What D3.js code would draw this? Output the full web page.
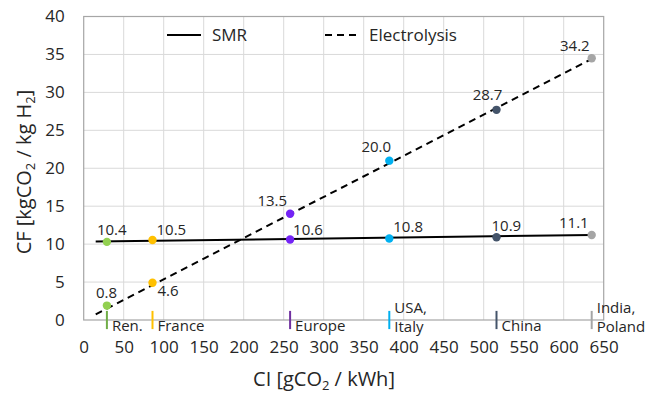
<!DOCTYPE html>
<html>
<head>
<meta charset="utf-8">
<script src="https://cdn.jsdelivr.net/npm/d3@7"></script>
<style>
  html, body { margin: 0; padding: 0; background: #fff; }
  svg { display: block; font-family: "Open Sans", "Noto Sans", sans-serif; }
</style>
</head>
<body>
<svg id="chart" width="651" height="393"></svg>
<script>
// ---- data ----
const categories = ["Ren.", "France", "Europe", "USA, Italy", "China", "India, Poland"];
const categoryLines = [["Ren."], ["France"], ["Europe"], ["USA,", "Italy"], ["China"], ["India,", "Poland"]];
const ci = [29, 86, 258, 382, 516, 635];
const smrValues = [10.3, 10.55, 10.6, 10.75, 10.9, 11.2];
const smrLabels = ["10.4", "10.5", "10.6", "10.8", "10.9", "11.1"];
const elecValues = [1.9, 4.9, 14.0, 21.0, 27.7, 34.5];
const elecLabels = ["0.8", "4.6", "13.5", "20.0", "28.7", "34.2"];
const trendX = [15, 635];
const smrTrend = [10.35, 11.2];
const elecTrend = [0.75, 34.4];
const xTickValues = [0, 50, 100, 150, 200, 250, 300, 350, 400, 450, 500, 550, 600, 650];
const yTickValues = [0, 5, 10, 15, 20, 25, 30, 35, 40];
const markerRange = [-1.2, 1.2];

// ---- style ----
const dotColors = ["#92d050", "#ffc000", "#7424f5", "#00b0f0", "#44546a", "#a5a5a5"];
const tickColors = ["#70ad47", "#ffc000", "#7030a0", "#00b0f0", "#44546a", "#a5a5a5"];
const smrLabelPos = [[-10, -7, "start"], [4, -5, "start"], [3, -5, "start"], [4, -6, "start"], [-5, -6, "start"], [-3, -7, "end"]];
const elecLabelPos = [[-11, -8, "start"], [5, 13, "start"], [-3, -8, "end"], [-13, -9, "middle"], [-9, -10, "middle"], [-2, -7, "end"]];
const textColor = "#262626";

const svg = d3.select("#chart");
const x = d3.scaleLinear().domain([0, 650]).range([83.7, 603.7]);
const y = d3.scaleLinear().domain([0, 40]).range([320, 16.5]);

// gridlines
svg.append("g").selectAll("line.vg").data(xTickValues.slice(1, -1)).join("line")
  .attr("x1", d => x(d)).attr("x2", d => x(d))
  .attr("y1", y(0)).attr("y2", y(40))
  .attr("stroke", "#d9d9d9").attr("stroke-width", 1);
svg.append("g").selectAll("line.hg").data(yTickValues.slice(1, -1)).join("line")
  .attr("x1", x(0)).attr("x2", x(650))
  .attr("y1", d => y(d)).attr("y2", d => y(d))
  .attr("stroke", "#d9d9d9").attr("stroke-width", 1);

// plot border
svg.append("rect")
  .attr("x", x(0)).attr("y", y(40))
  .attr("width", x(650) - x(0)).attr("height", y(0) - y(40))
  .attr("fill", "none").attr("stroke", "#a6a6a6").attr("stroke-width", 1.2);

// axes (labels only)
const xAxis = d3.axisBottom(x).tickValues(xTickValues).tickSize(0).tickPadding(0);
const gx = svg.append("g").attr("transform", `translate(0,${y(0) + 27})`).call(xAxis);
gx.select(".domain").remove();
gx.selectAll("text").attr("font-size", 17).attr("fill", textColor)
  .attr("font-family", "Open Sans").attr("dy", "0.35em").attr("y", 0);

const yAxis = d3.axisLeft(y).tickValues(yTickValues).tickSize(0).tickPadding(0);
const gy = svg.append("g").attr("transform", `translate(${x(0) - 19},0)`).call(yAxis);
gy.select(".domain").remove();
gy.selectAll("text").attr("font-size", 17).attr("fill", textColor).attr("font-family", "Open Sans");

// category markers
svg.append("g").selectAll("line").data(ci).join("line")
  .attr("x1", d => x(d)).attr("x2", d => x(d))
  .attr("y1", y(markerRange[0])).attr("y2", y(markerRange[1]))
  .attr("stroke", (d, i) => tickColors[i]).attr("stroke-width", 2);

// category labels
const catG = svg.append("g");
categoryLines.forEach((lines, i) => {
  const t = catG.append("text")
    .attr("x", x(ci[i]) + 5)
    .attr("font-size", 15).attr("fill", textColor);
  lines.forEach((ln, j) => {
    const baseY = lines.length === 1 ? 331 : (j === 0 ? 313 : 332);
    t.append("tspan").attr("x", x(ci[i]) + 5).attr("y", baseY).text(ln);
  });
});

// trend lines
const line = d3.line().x(d => x(d[0])).y(d => y(d[1]));
svg.append("path").datum(trendX.map((v, i) => [v, smrTrend[i]]))
  .attr("d", line).attr("fill", "none").attr("stroke", "#000").attr("stroke-width", 2);
svg.append("path").datum(trendX.map((v, i) => [v, elecTrend[i]]))
  .attr("d", line).attr("fill", "none").attr("stroke", "#000").attr("stroke-width", 2)
  .attr("stroke-dasharray", "7,5");

// dots
svg.append("g").selectAll("circle").data(ci).join("circle")
  .attr("cx", d => x(d)).attr("cy", (d, i) => y(smrValues[i])).attr("r", 4.2)
  .attr("fill", (d, i) => dotColors[i]);
svg.append("g").selectAll("circle").data(ci).join("circle")
  .attr("cx", d => x(d)).attr("cy", (d, i) => y(elecValues[i])).attr("r", 4.2)
  .attr("fill", (d, i) => dotColors[i]);

// data labels
svg.append("g").selectAll("text").data(ci).join("text")
  .attr("x", (d, i) => x(d) + smrLabelPos[i][0])
  .attr("y", (d, i) => y(smrValues[i]) + smrLabelPos[i][1])
  .attr("text-anchor", (d, i) => smrLabelPos[i][2])
  .attr("font-size", 15).attr("fill", textColor)
  .text((d, i) => smrLabels[i]);
svg.append("g").selectAll("text").data(ci).join("text")
  .attr("x", (d, i) => x(d) + elecLabelPos[i][0])
  .attr("y", (d, i) => y(elecValues[i]) + elecLabelPos[i][1])
  .attr("text-anchor", (d, i) => elecLabelPos[i][2])
  .attr("font-size", 15).attr("fill", textColor)
  .text((d, i) => elecLabels[i]);

// legend
const leg = svg.append("g");
leg.append("line").attr("x1", 167).attr("x2", 201).attr("y1", 35).attr("y2", 35)
  .attr("stroke", "#000").attr("stroke-width", 2);
leg.append("text").attr("x", 212).attr("y", 41).attr("font-size", 17).attr("fill", textColor).text("SMR");
leg.append("line").attr("x1", 325).attr("x2", 358).attr("y1", 35).attr("y2", 35)
  .attr("stroke", "#000").attr("stroke-width", 2).attr("stroke-dasharray", "7,5");
leg.append("text").attr("x", 369).attr("y", 41).attr("font-size", 17).attr("fill", textColor).text("Electrolysis");

// axis titles
const xt = svg.append("text").attr("x", 324).attr("y", 386).attr("text-anchor", "middle")
  .attr("font-size", 20).attr("fill", textColor);
xt.append("tspan").text("CI [gCO");
xt.append("tspan").attr("font-size", 13).attr("dy", 4).text("2");
xt.append("tspan").attr("dy", -4).text(" / kWh]");

const yt = svg.append("text").attr("transform", "translate(31,172) rotate(-90)")
  .attr("text-anchor", "middle").attr("font-size", 20).attr("fill", textColor);
yt.append("tspan").text("CF [kgCO");
yt.append("tspan").attr("font-size", 13).attr("dy", 4).text("2");
yt.append("tspan").attr("dy", -4).text(" / kg H");
yt.append("tspan").attr("font-size", 13).attr("dy", 4).text("2");
yt.append("tspan").attr("dy", -4).text("]");
</script>
</body>
</html>
